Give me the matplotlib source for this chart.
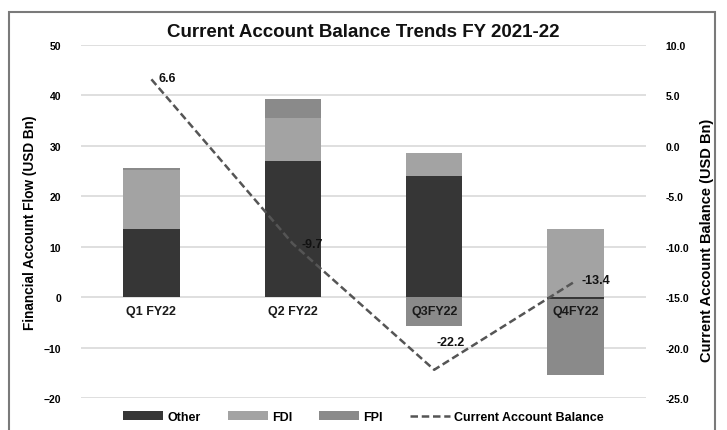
import matplotlib
matplotlib.use("Agg")
import matplotlib.pyplot as plt
from matplotlib.patches import Rectangle
import numpy as np

categories = ["Q1 FY22", "Q2 FY22", "Q3FY22", "Q4FY22"]
other = [13.5, 27.0, 24.0, -0.3]
fdi = [11.8, 8.5, 4.5, 13.6]
fpi = [0.3, 3.8, -5.8, -15.2]
cab = [6.6, -9.7, -22.2, -13.4]
left_ticks = [50, 40, 30, 20, 10, 0, -10, -20]
right_ticks = [10.0, 5.0, 0.0, -5.0, -10.0, -15.0, -20.0, -25.0]

fam = ['Liberation Sans', 'DejaVu Sans']
plt.rcParams['font.family'] = fam

fig = plt.figure(figsize=(7.27, 4.31), dpi=100)
ax = fig.add_axes([0.111, 0.0742, 0.778, 0.819])
ax2 = ax.twinx()

x = np.arange(len(categories))
w = 0.4
c_other, c_fdi, c_fpi = "#363636", "#a3a3a3", "#8a8a8a"

pos_base = np.zeros(len(x))
neg_base = np.zeros(len(x))
for vals, col, lab in [(other, c_other, "Other"), (fdi, c_fdi, "FDI"), (fpi, c_fpi, "FPI")]:
    v = np.array(vals, dtype=float)
    bottoms = np.where(v >= 0, pos_base, neg_base)
    ax.bar(x, v, w, bottom=bottoms, color=col, label=lab, zorder=2)
    pos_base = pos_base + np.where(v >= 0, v, 0)
    neg_base = neg_base + np.where(v < 0, v, 0)

ax.set_ylim(-20, 50)
ax.set_yticks(left_ticks)
ax.set_xlim(-0.5, 3.5)
ax.grid(axis='y', color="#d9d9d9", linewidth=1.2, zorder=0)
ax.set_axisbelow(True)
for s in ax.spines.values():
    s.set_visible(False)
for s in ax2.spines.values():
    s.set_visible(False)
ax.set_xticks([])
for xi, lab in zip(x, categories):
    ax.text(xi, -1.6, lab, ha='center', va='top', fontsize=9, fontweight='bold',
            color="#1a1a1a", zorder=5)
ax.tick_params(axis='y', length=0, labelsize=7.5, pad=14)
for t in ax.get_yticklabels():
    t.set_fontweight('bold')
ax.set_ylabel("Financial Account Flow (USD Bn)", fontsize=9.8, fontweight='bold',
              labelpad=5)

ax2.plot(x, cab, linestyle=(0, (3, 1.5)), color="#555555", linewidth=1.8,
         label="Current Account Balance", zorder=3)
ax2.set_ylim(-25, 10)
ax2.set_yticks(right_ticks)
ax2.set_yticklabels([f"{t:.1f}" for t in right_ticks], fontsize=7.5, fontweight='bold')
ax2.tick_params(axis='y', length=0, pad=14)
ax2.set_ylabel("Current Account Balance (USD Bn)", fontsize=10.5, fontweight='bold')
ax2.yaxis.set_label_coords(1.095, 0.45)
offsets = [(5, 1), (6, 0), (2, 20), (4, 1)]
for xi, yi, off in zip(x, cab, offsets):
    ax2.annotate(f"{yi:.1f}", (xi, yi), xytext=off, textcoords='offset points',
                 fontsize=9, fontweight='bold', ha='left', va='center', color="#111111")

fig.suptitle("Current Account Balance Trends FY 2021-22", x=0.5, y=0.945,
             fontsize=13.5, fontweight='bold', color="#111111")

h1, l1 = ax.get_legend_handles_labels()
h2, l2 = ax2.get_legend_handles_labels()
fig.legend(h1 + h2, l1 + l2, loc='lower center', bbox_to_anchor=(0.5, -0.01), ncol=4,
           frameon=False, prop={'size': 9, 'weight': 'bold'}, handlelength=3.2,
           handleheight=0.7, columnspacing=2.2, handletextpad=0.3)

fig.patches.append(Rectangle((0.012, -0.01), 0.972, 0.98, transform=fig.transFigure,
                             fill=False, edgecolor="#7a7a7a", linewidth=1.5))

fig.savefig("out.png", dpi=100)
